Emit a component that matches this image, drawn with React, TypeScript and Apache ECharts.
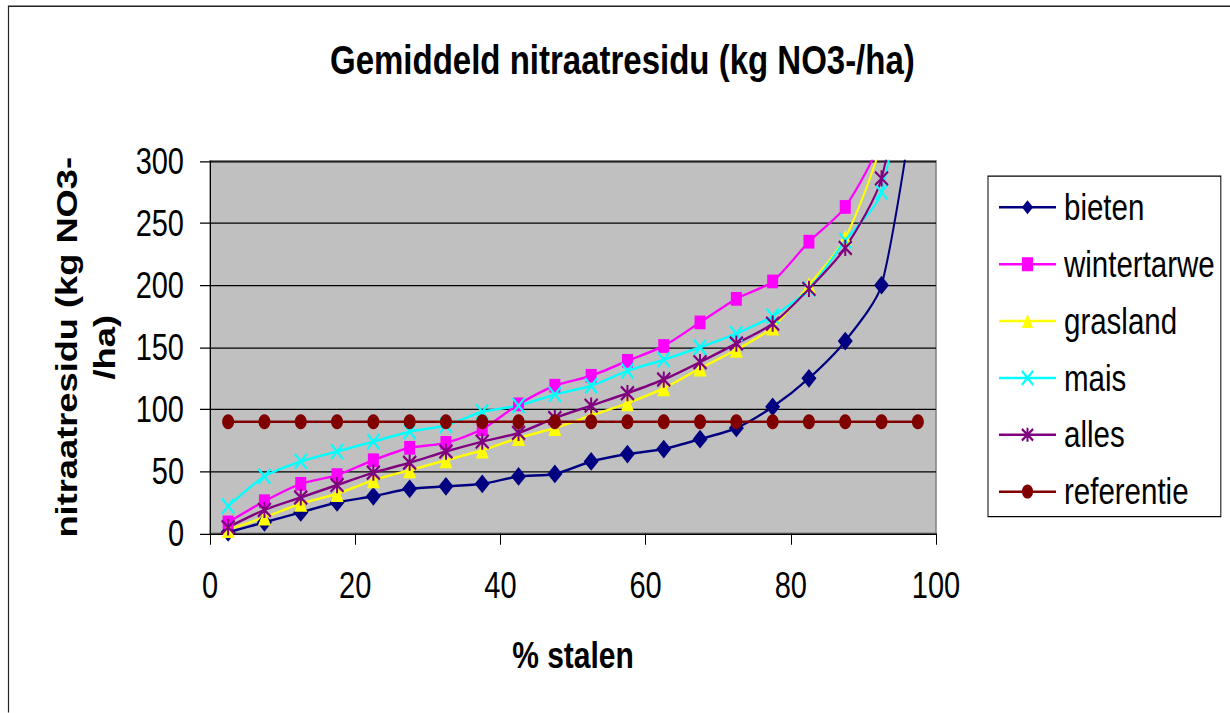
import React, { useEffect, useRef } from "react";
import * as echarts from "echarts";

// ---- data ----
const xValues = [2.5, 7.5, 12.5, 17.5, 22.5, 27.5, 32.5, 37.5, 42.5, 47.5, 52.5, 57.5, 62.5, 67.5, 72.5, 77.5, 82.5, 87.5, 92.5, 97.5];
const bieten = [1, 9, 17, 25, 30, 36, 38, 40, 46, 48, 58, 64, 68, 76, 85, 102, 125, 155, 200, 370];
const wintertarwe = [9, 26, 40, 47, 59, 69, 73, 84, 104, 119, 127, 139, 151, 170, 189, 203, 235, 263, 320, 480];
const grasland = [3, 13, 24, 32, 43, 51, 59, 67, 77, 85, 95, 105, 117, 133, 148, 166, 200, 238, 315, 460];
const mais = [22, 46, 58, 66, 74, 82, 87, 98, 103, 112, 119, 131, 140, 150, 161, 175, 197, 236, 275, 450];
const alles = [5, 19, 29, 39, 49, 57, 66, 74, 81, 93, 103, 113, 124, 138, 153, 169, 197, 230, 286, 450];
const referentie = [90, 90, 90, 90, 90, 90, 90, 90, 90, 90, 90, 90, 90, 90, 90, 90, 90, 90, 90, 90];
const seriesNames = ["bieten", "wintertarwe", "grasland", "mais", "alles", "referentie"];

const titleText = "Gemiddeld nitraatresidu (kg NO3-/ha)";
const xAxisName = "% stalen";
const yAxisName = "nitraatresidu (kg NO3-\n/ha)";

// the reference picture is vertically stretched
const S = 1.25;
const W = 1230;
const H = 713;
const innerH = H / S;
const font = "'Liberation Sans', Arial, sans-serif";

const xMark = "path://M0,0L10,10M10,0L0,10";
const starMark = "path://M0,0L10,10M10,0L0,10M5,-1L5,11";

function mk(name: string, values: number[], color: string, symbol: string, size: number, stroke = false) {
  return {
    name,
    type: "line",
    data: xValues.map((x, i) => [x, values[i]]),
    smooth: 0.25,
    clip: true,
    symbol,
    symbolSize: size,
    showAllSymbol: true,
    lineStyle: { color, width: 2 },
    itemStyle: stroke
      ? { color, borderColor: color, borderWidth: 2 }
      : { color, borderWidth: 0 },
    emphasis: { disabled: true },
  };
}

export default function App() {
  const ref = useRef<HTMLDivElement>(null);
  useEffect(() => {
    const chart = echarts.init(ref.current!, null, { renderer: "svg" });
    const option = {
      animation: false,
      backgroundColor: "#fff",
      textStyle: { fontFamily: font },
      title: {
        text: titleText,
        left: 330,
        top: 31,
        padding: 0,
        textStyle: { fontSize: 33, fontWeight: "bold", color: "#000", fontFamily: font },
      },
      graphic: [
        {
          type: "rect",
          silent: true,
          shape: { x: 8.5, y: 5, width: 1400, height: 900 },
          style: { fill: "none", stroke: "#222", lineWidth: 1.2 },
        },
      ],
      grid: {
        left: 210,
        right: W - 936,
        top: 161 / S,
        height: (533.5 - 161) / S,
        show: true,
        backgroundColor: "#C0C0C0",
        borderColor: "#808080",
        borderWidth: 1.5,
      },
      legend: {
        orient: "vertical",
        left: 988,
        top: 176 / S,
        padding: [10, 6, 5, 10],
        itemGap: 15.5,
        itemWidth: 57,
        itemHeight: 14,
        borderColor: "#000",
        borderWidth: 1,
        backgroundColor: "#fff",
        textStyle: { fontSize: 29.5, color: "#000", fontFamily: font, lineHeight: 29, padding: [0, 0, 0, 3] },
        data: seriesNames,
      },
      xAxis: {
        type: "value",
        min: 0,
        max: 100,
        interval: 20,
        name: xAxisName,
        nameLocation: "middle",
        nameGap: 82,
        nameTextStyle: { fontSize: 30, fontWeight: "bold", color: "#000", fontFamily: font },
        axisLine: { onZero: false, lineStyle: { color: "#000", width: 1 } },
        axisTick: { show: true, length: 9, lineStyle: { color: "#000" } },
        axisLabel: { fontSize: 29, color: "#000", margin: 27, fontFamily: font },
        splitLine: { show: false },
      },
      yAxis: {
        type: "value",
        min: 0,
        max: 300,
        interval: 50,
        name: yAxisName,
        nameLocation: "middle",
        nameGap: 86,
        nameTextStyle: { fontSize: 29, fontWeight: "bold", lineHeight: 38, color: "#000", align: "center", fontFamily: font },
        axisLine: { show: true, lineStyle: { color: "#000", width: 1 } },
        axisTick: { show: true, length: 10, lineStyle: { color: "#000" } },
        axisLabel: { fontSize: 29, color: "#000", margin: 26, fontFamily: font },
        splitLine: { show: true, lineStyle: { color: "#000", width: 1 } },
      },
      series: [
        mk("bieten", bieten, "#000080", "diamond", 15),
        mk("wintertarwe", wintertarwe, "#FF00FF", "rect", 11),
        mk("grasland", grasland, "#FFFF00", "triangle", 13),
        mk("mais", mais, "#00FFFF", xMark, 12, true),
        mk("alles", alles, "#800080", starMark, 13, true),
        mk("referentie", referentie, "#800000", "circle", 12),
      ],
    };
    chart.setOption(option as any);
    return () => chart.dispose();
  }, []);
  return (
    <div style={{ position: "absolute", left: 0, top: 0, width: W, height: H, overflow: "hidden", background: "#fff" }}>
      <div
        ref={ref}
        style={{ width: W, height: innerH, transform: `scaleY(${S})`, transformOrigin: "0 0" }}
      />
    </div>
  );
}
